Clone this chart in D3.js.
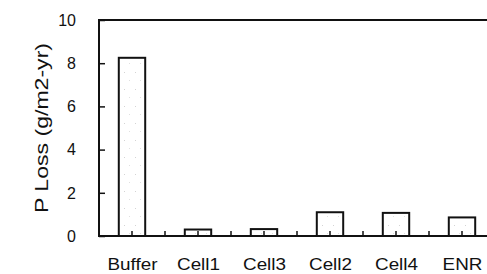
<!DOCTYPE html>
<html>
<head>
<meta charset="utf-8">
<script src="https://cdn.jsdelivr.net/npm/d3@7"></script>
<style>
  body { margin: 0; background: #fff; }
  svg text { font-family: "Liberation Sans", Arial, sans-serif; fill: #111; }
</style>
</head>
<body>
<div id="chart"></div>
<script>
// data
var categories = ["Buffer", "Cell1", "Cell3", "Cell2", "Cell4", "ENR"];
var pLoss      = [8.25, 0.3, 0.32, 1.1, 1.07, 0.86];
var yTicks     = [0, 2, 4, 6, 8, 10];
var yLabel     = "P Loss (g/m2-yr)";

var W = 487, H = 274;
var plot = {left: 99, top: 20, bottom: 236, right: 495};

var svg = d3.select("#chart").append("svg")
			.attr("width", W)
			.attr("height", H);

// faint stipple like the scanned bars
var defs = svg.append("defs");
var pat = defs.append("pattern")
			.attr("id", "stip")
			.attr("width", 11).attr("height", 17)
			.attr("patternUnits", "userSpaceOnUse");
pat.append("rect").attr("width", 11).attr("height", 17).attr("fill", "#fff");
pat.append("rect").attr("x", 3).attr("y", 4).attr("width", 1).attr("height", 1).attr("fill", "#d4d4d4");
pat.append("rect").attr("x", 8).attr("y", 12).attr("width", 1).attr("height", 1).attr("fill", "#e0e0e0");

var x = d3.scaleBand()
			.domain(categories)
			.range([plot.left, plot.right])
			.paddingInner(0.6)
			.paddingOuter(0.3);
var y = d3.scaleLinear()
			.domain([0, 10])
			.range([plot.bottom, plot.top]);

// bars
svg.selectAll("rect.bar")
	.data(categories)
	.enter()
	.append("rect")
	.attr("class", "bar")
	.attr("x", function(d){return x(d)})
	.attr("y", function(d, i){return y(pLoss[i])})
	.attr("width", x.bandwidth())
	.attr("height", function(d, i){return y(0) - y(pLoss[i])})
	.attr("fill", "url(#stip)")
	.attr("stroke", "#111")
	.attr("stroke-width", 2);

// frame: top, left, bottom
svg.append("path")
	.attr("d", "M" + W + "," + y(10) + "H" + plot.left + "V" + y(0) + "H" + W)
	.attr("fill", "none")
	.attr("stroke", "#111")
	.attr("stroke-width", 2);

// y axis ticks (inside) and labels
var yAxis = d3.axisRight(y).tickValues(yTicks).tickSize(6).tickFormat("");
svg.append("g")
	.attr("transform", "translate(" + plot.left + ",0)")
	.call(yAxis)
	.call(function(g){
		g.select(".domain").remove();
		g.selectAll("line").attr("stroke", "#111").attr("stroke-width", 1.5);
	});

svg.append("g").selectAll("text")
	.data(yTicks)
	.enter()
	.append("text")
	.attr("x", 76)
	.attr("y", function(d){return y(d)})
	.attr("dy", "0.36em")
	.attr("text-anchor", "end")
	.attr("font-size", 16)
	.text(function(d){return d});

// x ticks: band centres and boundaries, pointing up
var step = x.step();
var xTickPos = [];
categories.forEach(function(c){
	xTickPos.push(x(c) + x.bandwidth() / 2);
	xTickPos.push(x(c) + x.bandwidth() / 2 + step / 2);
});
svg.append("g").selectAll("line")
	.data(xTickPos)
	.enter()
	.append("line")
	.attr("x1", function(d){return d})
	.attr("x2", function(d){return d})
	.attr("y1", y(0))
	.attr("y2", y(0) - 5)
	.attr("stroke", "#111")
	.attr("stroke-width", 1.5);

// category labels
svg.append("g").selectAll("text")
	.data(categories)
	.enter()
	.append("text")
	.attr("transform", function(d){return "translate(" + (x(d) + x.bandwidth() / 2 + 0.5) + ",270) scale(1.18,1)"})
	.attr("text-anchor", "middle")
	.attr("font-size", 16)
	.text(function(d){return d});

// y title
svg.append("text")
	.attr("transform", "translate(41,128) rotate(-90)")
	.attr("text-anchor", "middle")
	.attr("dy", "0.35em")
	.attr("font-size", 19)
	.attr("textLength", 170)
	.attr("lengthAdjust", "spacingAndGlyphs")
	.text(yLabel);
</script>
</body>
</html>
